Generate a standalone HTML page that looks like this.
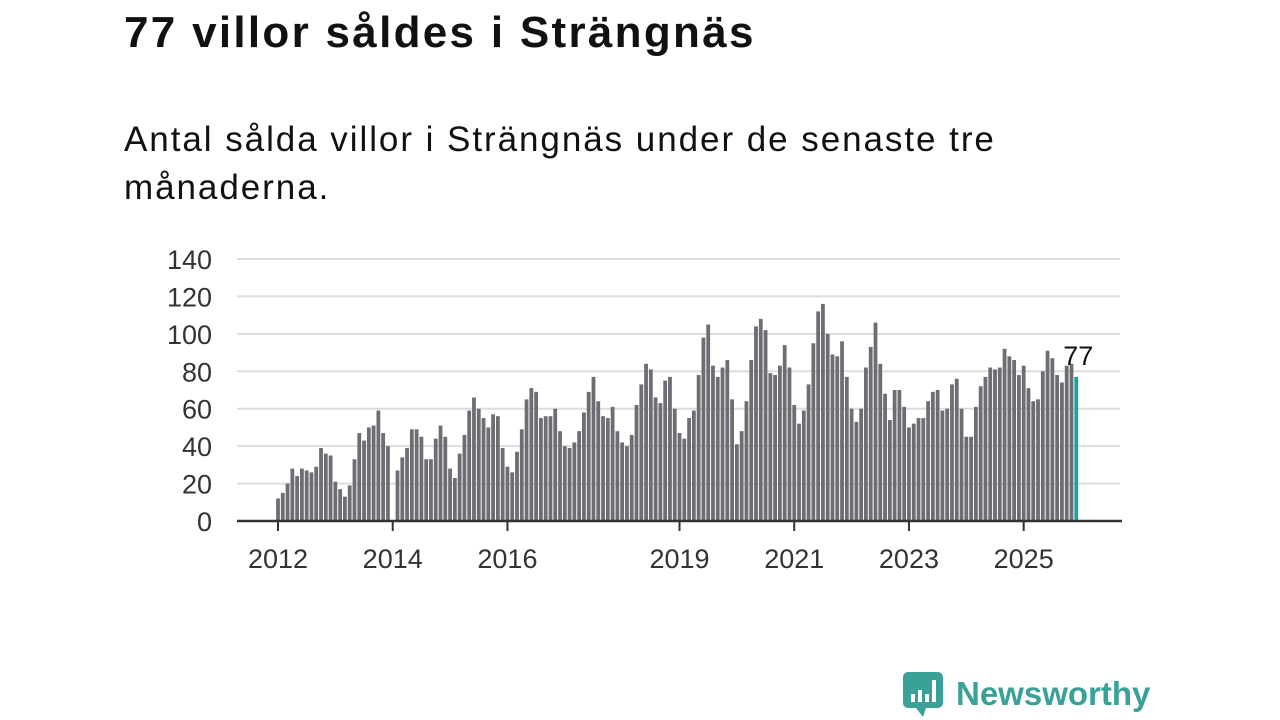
<!DOCTYPE html>
<html><head><meta charset="utf-8"><style>
body{margin:0;background:#fff;width:1280px;height:720px;overflow:hidden;font-family:"Liberation Sans",sans-serif;position:relative}
#title{position:absolute;left:124px;top:8px;font-size:44px;letter-spacing:2.3px;font-weight:bold;color:#111;margin:0}
#sub{position:absolute;left:124px;top:116px;font-size:35px;letter-spacing:1.95px;line-height:48px;color:#111;width:980px}
svg{position:absolute;left:0;top:0}
#logo{position:absolute;left:902px;top:670px;display:flex;align-items:center;gap:12px;color:#3aa198;font-size:33px;font-weight:bold}
</style></head><body>
<h1 id="title">77 villor såldes i Strängnäs</h1>
<div id="sub">Antal sålda villor i Strängnäs under de senaste tre månaderna.</div>
<svg id="chart" width="1280" height="720"></svg>
<div id="logo">
<svg width="42" height="48" viewBox="0 0 42 48" style="position:static"><rect x="1" y="2" width="40" height="36" rx="5" fill="#3aa198"/><path d="M14 38 L21 47 L24 38Z" fill="#3aa198"/><rect x="9" y="24" width="4" height="8" fill="#fff"/><rect x="16" y="20" width="4" height="12" fill="#fff"/><rect x="23" y="24" width="4" height="8" fill="#fff"/><rect x="30" y="10" width="4" height="22" fill="#fff"/></svg>
<span>Newsworthy</span></div>
<script>
const yTicks=[0,20,40,60,80,100,120,140];
const xLabels=["2012","2014","2016","2019","2021","2023","2025"];
const xLabelYears=[2012,2014,2016,2019,2021,2023,2025];
const startYear=2012;
const values=[12,15,20,28,24,28,27,26,29,39,36,35,
21,17,13,19,33,47,43,50,51,59,47,40,
0,27,34,39,49,49,45,33,33,44,51,45,
28,23,36,46,59,66,60,55,50,57,56,39,
29,26,37,49,65,71,69,55,56,56,60,48,
40,39,42,48,58,69,77,64,56,55,61,48,
42,40,46,62,73,84,81,66,63,75,77,60,
47,44,55,59,78,98,105,83,77,82,86,65,
41,48,64,86,104,108,102,79,78,83,94,82,
62,52,59,73,95,112,116,100,89,88,96,77,
60,53,60,82,93,106,84,68,54,70,70,61,
50,52,55,55,64,69,70,59,60,73,76,60,
45,45,61,72,77,82,81,82,92,88,86,78,
83,71,64,65,80,91,87,78,74,83,84,77];
const svg=document.getElementById('chart');
const NS='http://www.w3.org/2000/svg';
const y=v=>521-v*262/140;
const x=i=>278+i*4.78;
function mk(t,a){const e=document.createElementNS(NS,t);for(const k in a)e.setAttribute(k,a[k]);svg.appendChild(e);return e;}
yTicks.forEach(t=>{
 if(t>0){const l=mk('line',{x1:237,x2:1120,y1:y(t),y2:y(t),stroke:'#ddd','stroke-width':2});
 
 }
 const tx=mk('text',{x:212,y:y(t)+10,'text-anchor':'end','font-size':27,fill:'#333','font-family':'Liberation Sans, sans-serif'});tx.textContent=t;
 
 
});
values.forEach((v,i)=>{
 const last=i===values.length-1;
 const r=mk('rect',{x:x(i)-1.9,y:y(v),width:3.8,height:521-y(v),fill:last?'#1aa59a':'#6e6d74'});
 
 
});
mk('line',{x1:237,x2:1122,y1:521,y2:521,stroke:'#333','stroke-width':2.5});
xLabelYears.forEach((yr,k)=>{
 const px=x((yr-startYear)*12);
 mk('line',{x1:px,x2:px,y1:521,y2:531,stroke:'#333','stroke-width':2});
 const tx=mk('text',{x:px,y:568,'text-anchor':'middle','font-size':27,fill:'#333','font-family':'Liberation Sans, sans-serif'});tx.textContent=xLabels[k];
 
 
});
const li=values.length-1;
const lab=mk('text',{x:x(li)+17,y:y(values[li])-12,'text-anchor':'end','font-size':27,fill:'#111','font-family':'Liberation Sans, sans-serif'});lab.textContent=values[li];


</script>
</body></html>
